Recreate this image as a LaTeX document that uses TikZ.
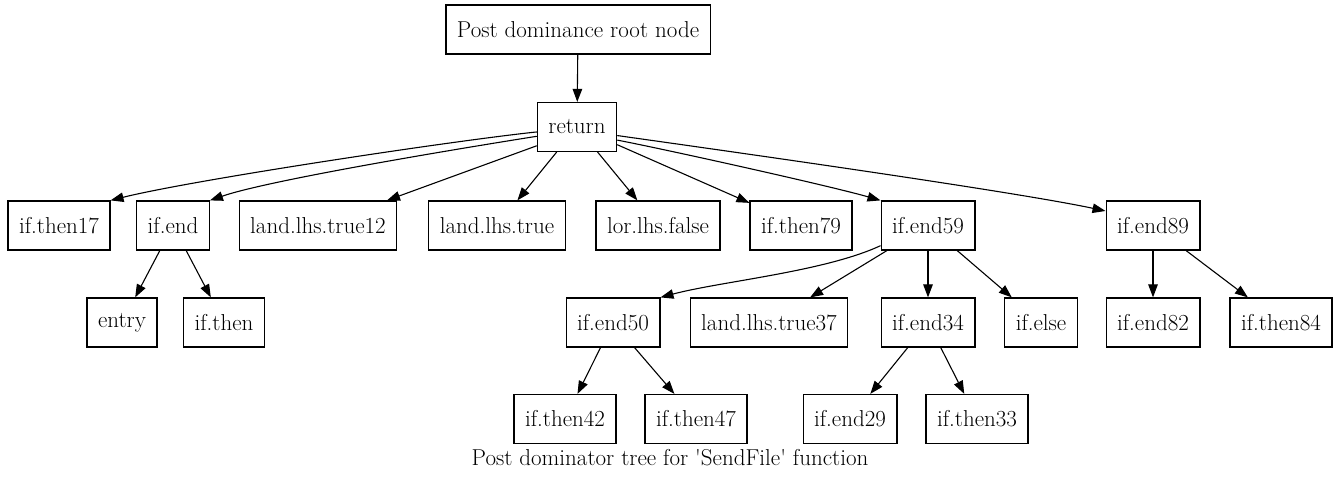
\documentclass[tikz,border=0pt]{standalone}
\usepackage{fontspec}
\usetikzlibrary{arrows.meta}
\tikzset{
    blk/.style={draw, line width=1.2pt, minimum height=49pt, inner xsep=11pt, inner ysep=0pt},
    edge/.style={line width=1.1pt, -{Triangle[length=13pt,width=9.5pt]}}
}
\begin{document}
\begin{tikzpicture}[x=1pt, y=-1pt, font=\fontsize{23}{27}\selectfont]
        \useasboundingbox (0,0) rectangle (1340,480);
        \node[blk] (root) at (578,29.5) {Post dominance root node};
        \node[blk] (ret) at (577,127) {return};
        % second row
        \foreach \n/\x/\t in {then17/59/if.then17, ifend/173/if.end, lt12/318/land.lhs.true12,
            lt/497/land.lhs.true, lor/658/lor.lhs.false, then79/801/if.then79,
            end59/928/if.end59, end89/1153/if.end89} {
            \node[blk] (\n) at (\x,225.5) {\t};
        }
        % third row
        \foreach \n/\x/\t in {entry/122/entry, then/224/if.then, end50/613/if.end50,
            lt37/769/land.lhs.true37, end34/928/if.end34, else/1041/if.else,
            end82/1153/if.end82, then84/1281/if.then84} {
            \node[blk] (\n) at (\x,322.5) {\t};
        }
        % fourth row
        \foreach \n/\x/\t in {then42/565/if.then42, then47/696/if.then47,
            end29/850/if.end29, then33/977/if.then33} {
            \node[blk] (\n) at (\x,419) {\t};
        }
        \node (cap) at (670,458) {Post dominator tree for \textquotesingle SendFile\textquotesingle{} function};

        \draw[edge] (root) -- (ret);
        \draw[edge] (ret.187) to[out=186, in=14, looseness=0.5] (then17.north east);
        \draw[edge] (ret.193) to[out=189, in=19, looseness=0.5] (ifend.north east);
        \draw[edge] (ret.205) -- (lt12.20);
        \foreach \b in {lt, lor, then79} {
            \draw[edge] (ret) -- (\b);
        }
        \draw[edge] (ret.-18) to[out=-11, in=164, looseness=0.5] (end59.north west);
        \draw[edge] (ret.-12) to[out=-8, in=168, looseness=0.5] (end89.163);
        \draw[edge] (ifend) -- (entry);
        \draw[edge] (ifend) -- (then);
        \draw[edge] (end59.203) to[out=205, in=15, looseness=0.7] (end50.north east);
        \foreach \b in {lt37, end34, else} {
            \draw[edge] (end59) -- (\b);
        }
        \draw[edge] (end89) -- (end82);
        \draw[edge] (end89) -- (then84);
        \draw[edge] (end50) -- (then42);
        \draw[edge] (end50) -- (then47);
        \draw[edge] (end34) -- (end29);
        \draw[edge] (end34) -- (then33);
    \end{tikzpicture}
\end{document}
